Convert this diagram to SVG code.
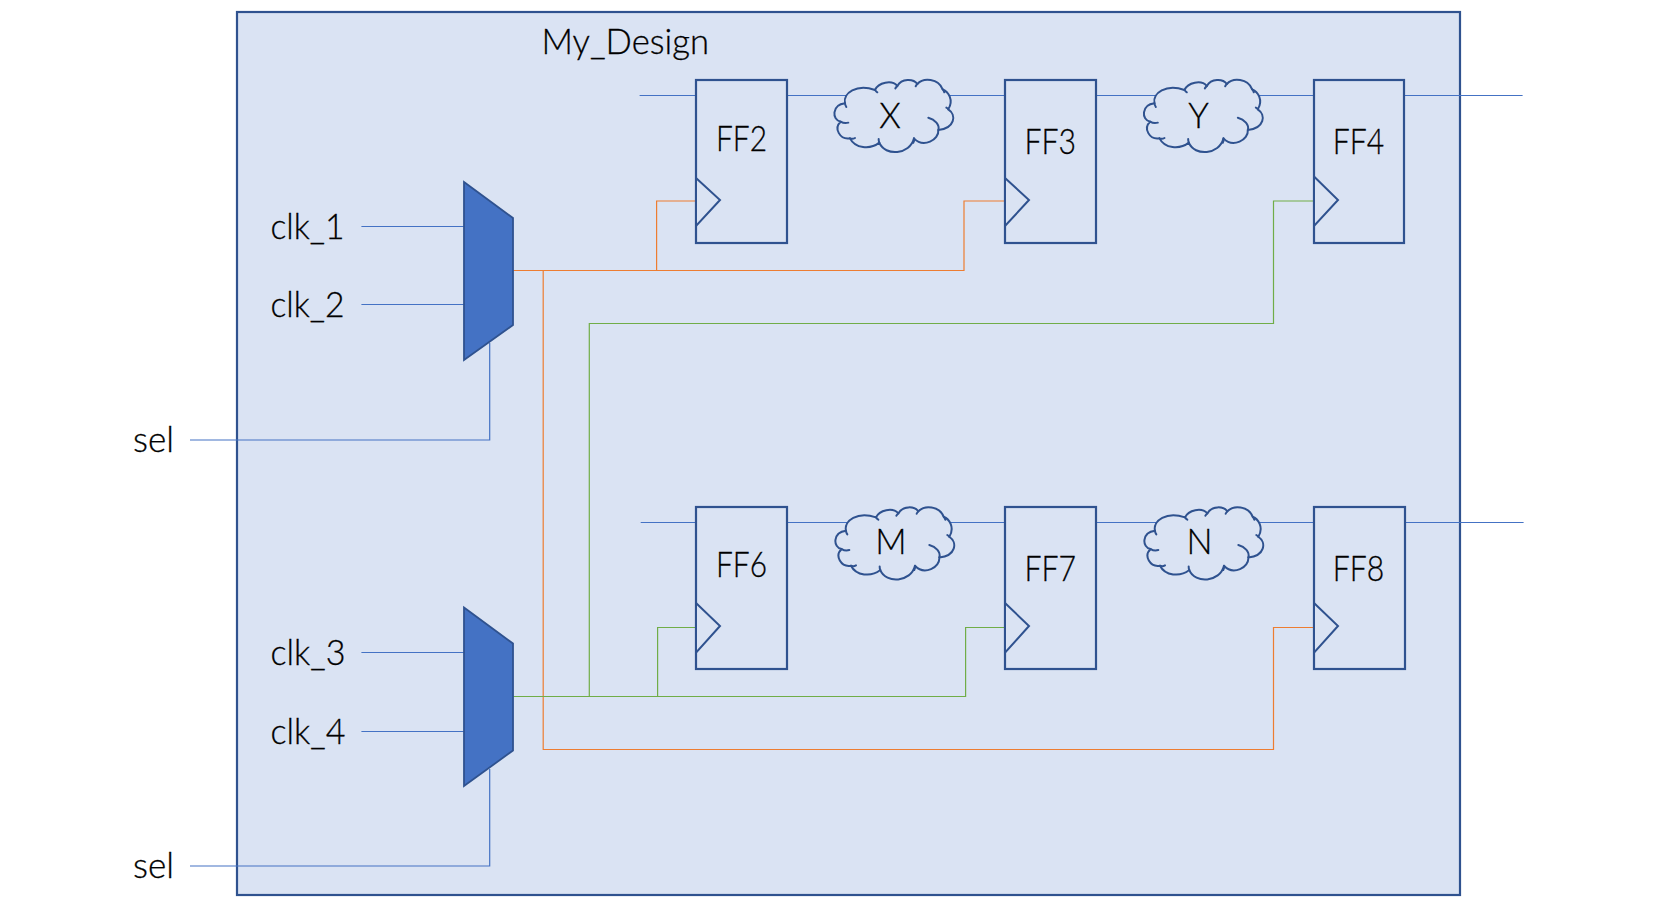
<svg xmlns="http://www.w3.org/2000/svg" xmlns:xlink="http://www.w3.org/1999/xlink" width="1662" height="913" viewBox="0 0 1662 913">
<style>
text{font-family:"Lato","Liberation Sans",sans-serif;font-size:34.5px;font-weight:300;fill:#000;stroke:#000;stroke-width:.3}
.c{text-anchor:middle}
.box{fill:#DAE3F3;stroke:#2F528F;stroke-width:2.2}
.tri{fill:#DAE3F3;stroke:#2F528F;stroke-width:2;stroke-linejoin:miter}
.mux{fill:#4472C4;stroke:#2F528F;stroke-width:1.8}
.cl{fill:#DAE3F3;stroke:#2F528F;stroke-width:6;stroke-linejoin:round}
.tk{fill:none;stroke:#2F528F;stroke-width:6;stroke-linecap:round}
.w{fill:none;stroke-width:1.2}
.b{stroke:#4472C4}.o{stroke:#ED7D31}.g{stroke:#70AD47}
</style>
<defs>
<g id="cloud">
<path class="cl" d="M75,130C68,100 110,70 165,90C175,68 215,58 232,78C245,55 280,55 292,72C310,52 355,55 368,88C385,95 402,120 385,148C410,165 405,205 355,210C358,240 310,265 282,235C270,285 195,290 178,248C150,270 105,265 90,235C60,240 40,205 62,185C35,180 35,135 75,130Z"/>
<path class="tk" d="M62,185C70,190 78,190 85,188M325,173C345,178 360,195 355,210M90,235C95,237 100,237 105,234M282,235C283,240 282,245 280,248M178,248C176,244 176,240 176,237M165,90C168,94 170,96 172,97M232,78C230,80 228,82 226,85M292,72C290,74 288,76 287,79M368,88C370,90 372,94 373,97M385,148C384,146 381,144 379,143M75,130C75,134 77,138 79,141"/>
</g>
</defs>
<g id="My_Design">
<rect class="box" x="237" y="12" width="1223" height="883"/>
<text x="541.5" y="54" textLength="167.5" lengthAdjust="spacingAndGlyphs">My_Design</text>
</g>
<g id="connectors">
<path class="w b" d="M361.4,226.5H464M361.4,304.5H464M361.4,652.5H464M361.4,731.5H464"/>
<path class="w b" d="M190,440H489.7V343"/>
<path class="w b" d="M190,866H489.7V769"/>
<path class="w b" d="M639.6,95.5H1522.6"/>
<path class="w b" d="M640.7,522.5H1523.6"/>
<path class="w o" d="M513,270.5H964V201H1004.8"/>
<path class="w o" d="M656.6,270.5V201H696"/>
<path class="w o" d="M543.2,270.5V749.5H1273.5V627.5H1314"/>
<path class="w g" d="M513,696.5H965.6V627.5H1004.8"/>
<path class="w g" d="M657.6,696.5V627.5H696"/>
<path class="w g" d="M589.3,696.5V323.5H1273.5V201H1314"/>
</g>
<g id="mux1"><polygon class="mux" points="464,182 513,218 513,325 464,360"/></g>
<g id="mux2"><polygon class="mux" points="464,607.5 513,643.5 513,750.5 464,786"/></g>
<g id="FF2"><rect class="box" x="696" y="80" width="91" height="163"/><polygon class="tri" points="696,178 720,200 696,226"/><text x="716" y="150.7" textLength="51" lengthAdjust="spacingAndGlyphs">FF2</text></g>
<g id="FF3"><rect class="box" x="1005" y="80" width="91" height="163"/><polygon class="tri" points="1005,178 1029,200 1005,226"/><text x="1024.4" y="153.7" textLength="51.5" lengthAdjust="spacingAndGlyphs">FF3</text></g>
<g id="FF4"><rect class="box" x="1314" y="80" width="90" height="163"/><polygon class="tri" points="1314,176.5 1338,200 1314,226"/><text x="1332.8" y="153.7" textLength="51.5" lengthAdjust="spacingAndGlyphs">FF4</text></g>
<g id="FF6"><rect class="box" x="696" y="507" width="91" height="162"/><polygon class="tri" points="696,603 720,626 696,652.7"/><text x="716" y="576.7" textLength="51" lengthAdjust="spacingAndGlyphs">FF6</text></g>
<g id="FF7"><rect class="box" x="1005" y="507" width="91" height="162"/><polygon class="tri" points="1005,603 1029,626 1005,652.7"/><text x="1024.4" y="580.7" textLength="51.5" lengthAdjust="spacingAndGlyphs">FF7</text></g>
<g id="FF8"><rect class="box" x="1314" y="507" width="91" height="162"/><polygon class="tri" points="1314,603 1338,626 1314,652.7"/><text x="1332.8" y="580.7" textLength="51.5" lengthAdjust="spacingAndGlyphs">FF8</text></g>
<g id="cloudX"><use xlink:href="#cloud" href="#cloud" transform="translate(820,60) scale(.3333)"/><text class="c" x="890" y="127.7">X</text></g>
<g id="cloudY"><use xlink:href="#cloud" href="#cloud" transform="translate(1129.5,60) scale(.3333)"/><text class="c" x="1198.5" y="127.7">Y</text></g>
<g id="cloudM"><use xlink:href="#cloud" href="#cloud" transform="translate(821,487.4) scale(.3333)"/><text class="c" x="891" y="554.3">M</text></g>
<g id="cloudN"><use xlink:href="#cloud" href="#cloud" transform="translate(1130,487.4) scale(.3333)"/><text class="c" x="1199.5" y="554.3">N</text></g>
<g id="labels">
<text x="270.5" y="238.7" textLength="74" lengthAdjust="spacingAndGlyphs">clk_1</text>
<text x="270.5" y="316.7" textLength="74" lengthAdjust="spacingAndGlyphs">clk_2</text>
<text x="270.5" y="664.7" textLength="75" lengthAdjust="spacingAndGlyphs">clk_3</text>
<text x="270.5" y="743.7" textLength="75" lengthAdjust="spacingAndGlyphs">clk_4</text>
<text x="133" y="451.7" textLength="41" lengthAdjust="spacingAndGlyphs">sel</text>
<text x="133" y="878.3" textLength="41" lengthAdjust="spacingAndGlyphs">sel</text>
</g>
</svg>
